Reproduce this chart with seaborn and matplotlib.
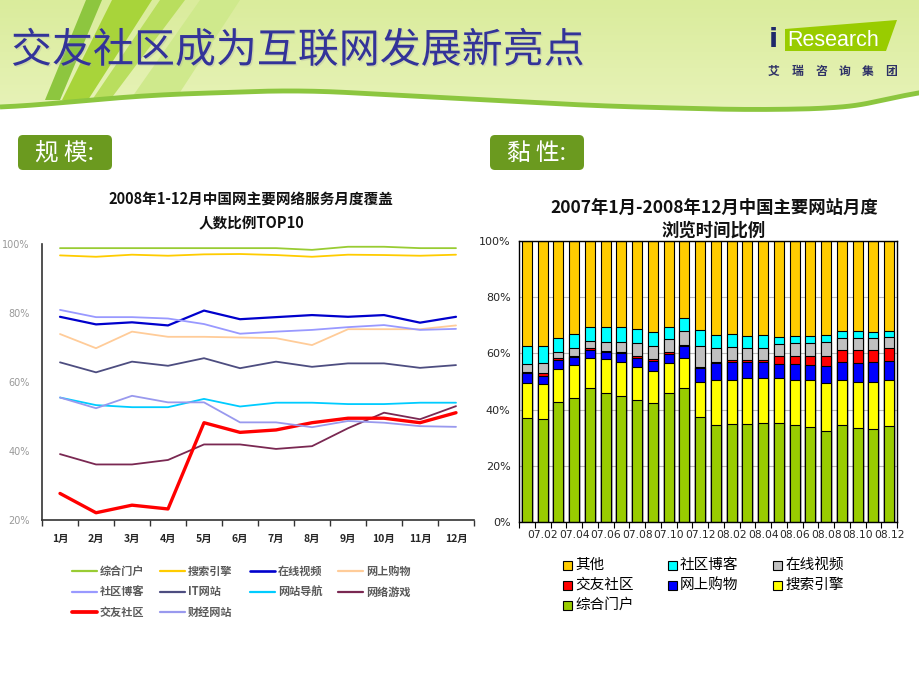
import numpy as np
import matplotlib
matplotlib.use('Agg')
import matplotlib.pyplot as plt
from matplotlib.patches import Polygon, FancyBboxPatch, Rectangle
from matplotlib.colors import LinearSegmentedColormap
import matplotlib.patheffects as pe
import seaborn as sns

# ---- left chart: monthly coverage (%) 2008 ----
months = ['1月', '2月', '3月', '4月', '5月', '6月', '7月', '8月', '9月', '10月', '11月', '12月']
portal = [98.8, 98.8, 98.8, 98.8, 98.8, 98.8, 98.8, 98.3, 99.2, 99.2, 98.8, 98.8]
search = [96.7, 96.3, 96.9, 96.6, 97.0, 97.1, 96.8, 96.3, 96.9, 96.8, 96.6, 96.9]
video = [78.9, 76.7, 77.3, 76.4, 80.7, 78.2, 78.8, 79.4, 78.9, 79.4, 77.2, 78.9]
shopping = [73.9, 69.8, 74.6, 73.1, 73.1, 72.9, 72.7, 70.7, 75.3, 75.3, 75.3, 76.4]
blog = [80.9, 78.8, 78.8, 78.4, 76.8, 74.0, 74.6, 75.1, 75.9, 76.5, 75.1, 75.4]
it_site = [65.7, 62.8, 65.9, 64.7, 66.9, 64.0, 65.9, 64.4, 65.4, 65.4, 64.1, 64.9]
nav_site = [55.5, 53.3, 52.7, 52.7, 55.1, 52.9, 54.0, 54.0, 53.6, 53.6, 54.0, 54.0]
game = [39.1, 36.1, 36.1, 37.4, 41.9, 41.9, 40.6, 41.4, 46.6, 51.1, 49.2, 53.0]
dating = [27.7, 22.1, 24.3, 23.2, 48.2, 45.4, 46.1, 48.2, 49.5, 49.5, 48.2, 51.1]
finance = [55.5, 52.4, 56.0, 54.1, 54.1, 48.3, 48.3, 46.9, 48.7, 48.2, 47.2, 47.0]

line_names = ['综合门户', '搜索引擎', '在线视频', '网上购物', '社区博客',
              'IT网站', '网站导航', '网络游戏', '交友社区', '财经网站']
line_values = [portal, search, video, shopping, blog, it_site, nav_site, game, dating, finance]
line_colors = ['#99CC33', '#FFCC00', '#0000CC', '#FFCC99', '#9999FF',
               '#4D4D80', '#00CCFF', '#7A2852', '#FF0000', '#9999EE']
line_widths = [1.3, 1.3, 1.6, 1.3, 1.3, 1.3, 1.3, 1.3, 2.4, 1.3]

# ---- right chart: monthly browsing time share (%) 2007.01-2008.12 ----
bar_months = ['07.%02d' % m for m in range(1, 13)] + ['08.%02d' % m for m in range(1, 13)]
bar_portal = [37.0, 36.6, 42.7, 44.1, 47.6, 45.9, 44.9, 43.5, 42.3, 45.9, 47.6, 37.4,
              34.5, 34.9, 34.9, 35.2, 35.2, 34.5, 33.8, 32.4, 34.5, 33.5, 33.1, 34.2]
bar_search = [12.4, 12.5, 11.7, 11.6, 10.7, 12.0, 12.2, 11.6, 11.6, 10.6, 10.7, 12.6,
              15.9, 15.8, 16.2, 15.9, 15.9, 16.2, 16.6, 17.0, 16.2, 16.5, 16.9, 16.2]
bar_shop = [3.6, 3.0, 3.3, 2.9, 2.9, 2.7, 2.9, 3.4, 3.5, 3.3, 4.3, 4.7,
            6.1, 6.2, 6.0, 6.0, 5.0, 5.4, 5.4, 6.0, 6.2, 6.5, 6.9, 6.8]
bar_dating = [0.5, 0.9, 0.6, 0.6, 0.6, 0.4, 0.4, 0.5, 0.6, 0.6, 0.4, 0.5,
              0.6, 0.7, 0.6, 0.6, 2.8, 3.1, 3.1, 3.8, 4.2, 4.6, 4.2, 4.6]
bar_video = [2.6, 3.7, 2.2, 2.7, 2.5, 2.9, 3.8, 4.6, 4.8, 4.6, 4.8, 7.6,
             4.7, 4.6, 4.1, 4.1, 4.3, 4.4, 4.7, 4.7, 4.3, 4.3, 4.3, 3.9]
bar_blog = [6.4, 5.8, 4.9, 4.9, 5.2, 5.6, 5.3, 5.0, 4.7, 4.5, 4.7, 5.5,
            4.6, 4.6, 4.3, 4.6, 2.5, 2.5, 2.5, 2.5, 2.4, 2.4, 2.1, 2.1]
bar_other = [37.5, 37.5, 34.6, 33.2, 30.5, 30.5, 30.5, 31.4, 32.5, 30.5, 27.5, 31.7,
             33.6, 33.2, 33.9, 33.6, 34.3, 33.9, 33.9, 33.6, 32.2, 32.2, 32.5, 32.2]

stack_names = ['综合门户', '搜索引擎', '网上购物', '交友社区', '在线视频', '社区博客', '其他']
stack_values = [bar_portal, bar_search, bar_shop, bar_dating, bar_video, bar_blog, bar_other]
stack_colors = ['#99CC00', '#FFFF00', '#0000FF', '#FF0000', '#C0C0C0', '#00FFFF', '#FFCC00']

sns.set_theme(style='white')
plt.rcParams['font.family'] = ['Noto Sans CJK SC', 'DejaVu Sans']

fig = plt.figure(figsize=(9.2, 6.9), dpi=100)
fig.patch.set_facecolor('white')

# background / decoration axes in pixel coordinates
bg = fig.add_axes([0, 0, 1, 1])
cx = [0, 150, 300, 450, 600, 750, 850, 890, 920]
cy = [108, 95, 90, 98, 106, 110, 108, 101, 88]
xs = np.linspace(0, 920, 300)
ys = np.interp(xs, cx, cy)
ys = np.convolve(np.pad(ys, 15, mode='edge'), np.ones(31) / 31, mode='valid')
hdr_pts = np.column_stack([np.r_[xs, 920, 0], np.r_[ys, 0, 0]])
cmap = LinearSegmentedColormap.from_list('hdr', ['#DAEC9C', '#E8F3BA'])
im = bg.imshow(np.linspace(0, 1, 100)[:, None], cmap=cmap, extent=[0, 920, 120, 0],
               aspect='auto', zorder=0)
clip = Polygon(hdr_pts, closed=True, facecolor='none', edgecolor='none')
bg.add_patch(clip)
im.set_clip_path(clip)
blades = [
    ([(130, 100), (175, 100), (240, 0), (200, 0)], '#CFE98C'),
    ([(45, 100), (60, 100), (102, 0), (86, 0)], '#8DC63F'),
    ([(62, 100), (88, 100), (152, 0), (112, 0)], '#A8D43A'),
    ([(92, 100), (110, 100), (185, 0), (160, 0)], '#B9DE5E'),
]
for pts, col in blades:
    p = Polygon(pts, closed=True, facecolor=col, edgecolor='none', zorder=1)
    bg.add_patch(p)
    p.set_clip_path(clip)
bg.plot(xs, ys, color='#8CC63F', lw=3.5, zorder=2, solid_capstyle='butt')

bg.text(11, 51, '交友社区成为互联网发展新亮点', fontsize=29.5, color='#333399',
        ha='left', va='center', zorder=3,
        path_effects=[pe.withSimplePatchShadow(offset=(1, -1), shadow_rgbFace='#AAAAAA', alpha=0.3)])

# logo
bg.add_patch(Polygon([(785, 29), (897, 20), (886, 51), (785, 51)], closed=True,
                     facecolor='#99CC00', edgecolor='none', zorder=3))
bg.text(773, 40, 'i', fontsize=19, color='#1F2A6B', fontweight='bold', family='DejaVu Sans',
        ha='center', va='center', zorder=4)
bg.text(787, 41, 'Research', fontsize=15.5, color='white', family='Liberation Sans',
        ha='left', va='center', zorder=4)
for k, ch in enumerate('艾瑞咨询集团'):
    bg.text(774 + k * 23.5, 71, ch, fontsize=8.5, color='#2E3166', fontweight='bold',
            ha='center', va='center', zorder=4)

# section labels
for x0, label in [(18, '规 模:'), (490, '黏 性:')]:
    bg.add_patch(FancyBboxPatch((x0, 135), 94, 35, boxstyle='round,pad=0,rounding_size=5',
                                facecolor='#6B9A1F', edgecolor='none'))
    bg.text(x0 + 47, 153, label, fontsize=17, color='white', ha='center', va='center')

# chart titles
bg.text(251, 200, '2008年1-12月中国网主要网络服务月度覆盖', fontsize=10.5, fontweight='bold',
        ha='center', va='center', color='#111111')
bg.text(251, 223, '人数比例TOP10', fontsize=10.5, fontweight='bold', ha='center', va='center',
        color='#111111')
bg.text(714, 208, '2007年1月-2008年12月中国主要网站月度', fontsize=12.5, fontweight='bold',
        ha='center', va='center', color='#111111')
bg.text(714, 231, '浏览时间比例', fontsize=12.5, fontweight='bold', ha='center', va='center',
        color='#111111')

# ---- left line chart ----
ax1 = fig.add_axes([42 / 920, (690 - 520) / 690, 432 / 920, 276 / 690])
month_pos = np.arange(1, 13)
for name, vals, col, lw in zip(line_names, line_values, line_colors, line_widths):
    sns.lineplot(x=month_pos, y=vals, color=col, linewidth=lw, ax=ax1)
ax1.set_xlim(0.5, 12.5)
ax1.set_ylim(20, 100)
ax1.set_yticks([20, 40, 60, 80, 100])
ax1.set_yticklabels(['20%', '40%', '60%', '80%', '100%'], color='#999999', fontsize=7,
                    family='DejaVu Sans')
ax1.set_xticks(month_pos)
ax1.set_xticklabels(months, fontsize=7.5, fontweight='bold')
ax1.set_xticks(np.arange(0.5, 13, 1), minor=True)
ax1.tick_params(axis='x', which='major', length=0, pad=10)
ax1.tick_params(axis='x', which='minor', length=4, width=1, color='#333333', bottom=True,
                direction='out')
ax1.tick_params(axis='y', length=0, pad=9)
for s in ['top', 'right']:
    ax1.spines[s].set_visible(False)
for s in ['left', 'bottom']:
    ax1.spines[s].set_color('#333333')
    ax1.spines[s].set_linewidth(1.2)
ax1.set_xlabel('')
ax1.set_ylabel('')

# left legend (4 columns, row-major)
leg_x = [72, 160, 250, 338]
leg_y = [571, 592, 612]
for i, (name, col, lw) in enumerate(zip(line_names, line_colors, line_widths)):
    x0 = leg_x[i % 4]
    y0 = leg_y[i // 4]
    bg.plot([x0, x0 + 25], [y0, y0], color=col, lw=lw + 0.3)
    bg.text(x0 + 28, y0, name, fontsize=8, fontweight='bold', color='#5A5A5A',
            ha='left', va='center')

# ---- right stacked bar chart ----
ax2 = fig.add_axes([519 / 920, (690 - 522) / 690, 378 / 920, 281 / 690])
cum = np.cumsum(np.array(stack_values), axis=0)
for i in range(len(stack_names) - 1, -1, -1):
    sns.barplot(x=bar_months, y=cum[i], color=stack_colors[i], saturation=1, width=0.63,
                edgecolor='black', linewidth=0.8, errorbar=None, ax=ax2, zorder=2)
ax2.set_ylim(0, 100)
ax2.set_xlim(-0.5, 23.5)
ax2.set_yticks([0, 20, 40, 60, 80, 100])
ax2.set_yticklabels(['0%', '20%', '40%', '60%', '80%', '100%'], fontsize=8, family='DejaVu Sans')
ax2.set_xticks(np.arange(1, 24, 2))
ax2.set_xticklabels(bar_months[1::2], fontsize=7.7, family='DejaVu Sans')
ax2.set_xticks(np.arange(-0.5, 24, 1), minor=True)
ax2.tick_params(axis='x', which='major', length=0, pad=6)
ax2.tick_params(axis='x', which='minor', length=4, width=0.8, color='black', bottom=True,
                direction='out')
ax2.tick_params(axis='y', length=0, pad=6)
ax2.yaxis.grid(True, color='#BBBBBB', lw=0.8)
ax2.set_axisbelow(True)
for s in ax2.spines.values():
    s.set_color('black')
    s.set_linewidth(1)
ax2.set_xlabel('')
ax2.set_ylabel('')

# right legend (3 columns, row-major, top category first)
rleg_x = [568, 673, 778]
rleg_y = [565, 585, 605]
for j, i in enumerate(range(len(stack_names) - 1, -1, -1)):
    x0 = rleg_x[j % 3]
    y0 = rleg_y[j // 3]
    bg.add_patch(Rectangle((x0 - 4.5, y0 - 4.5), 9, 9, facecolor=stack_colors[i],
                           edgecolor='black', lw=0.8))
    bg.text(x0 + 7, y0, stack_names[i], fontsize=10.5, color='black', ha='left', va='center')

bg.set_xlim(0, 920)
bg.set_ylim(690, 0)
bg.axis('off')

fig.savefig('out.png', dpi=100)
